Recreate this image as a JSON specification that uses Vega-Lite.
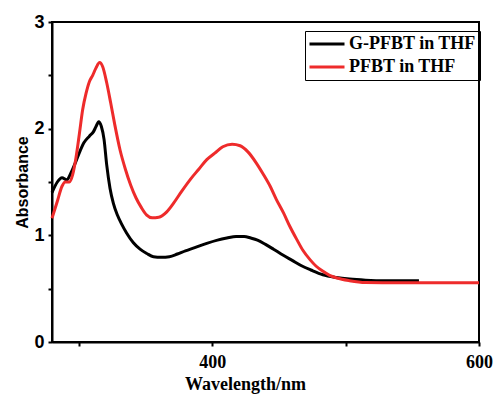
{
  "$schema": "https://vega.github.io/schema/vega-lite/v6.json",
  "width": 427,
  "height": 320,
  "autosize": {"type": "none"},
  "padding": {"left": 52, "top": 22, "right": 16, "bottom": 53},
  "background": "white",
  "datasets": {
    "black": [
      {"nm": 280, "A": 1.40}, {"nm": 284, "A": 1.50}, {"nm": 287.5, "A": 1.54}, {"nm": 291, "A": 1.52},
      {"nm": 294, "A": 1.58}, {"nm": 297.5, "A": 1.68}, {"nm": 301, "A": 1.79}, {"nm": 304, "A": 1.87},
      {"nm": 308, "A": 1.93}, {"nm": 311, "A": 1.97}, {"nm": 313, "A": 2.02}, {"nm": 315, "A": 2.065},
      {"nm": 317, "A": 2.02}, {"nm": 319, "A": 1.90}, {"nm": 321, "A": 1.66}, {"nm": 323.5, "A": 1.44},
      {"nm": 326, "A": 1.30}, {"nm": 329, "A": 1.19}, {"nm": 332, "A": 1.11}, {"nm": 336, "A": 1.02},
      {"nm": 341, "A": 0.93}, {"nm": 346, "A": 0.87}, {"nm": 351, "A": 0.83}, {"nm": 356, "A": 0.80},
      {"nm": 362, "A": 0.795}, {"nm": 368, "A": 0.80}, {"nm": 374, "A": 0.825}, {"nm": 380, "A": 0.855},
      {"nm": 387, "A": 0.885}, {"nm": 396, "A": 0.925}, {"nm": 404, "A": 0.955}, {"nm": 411, "A": 0.975},
      {"nm": 418, "A": 0.99}, {"nm": 424, "A": 0.99}, {"nm": 429, "A": 0.975}, {"nm": 434, "A": 0.955},
      {"nm": 440, "A": 0.915}, {"nm": 446, "A": 0.87}, {"nm": 453, "A": 0.815}, {"nm": 460, "A": 0.765},
      {"nm": 467, "A": 0.715}, {"nm": 474, "A": 0.675}, {"nm": 483, "A": 0.63}, {"nm": 493, "A": 0.605},
      {"nm": 503, "A": 0.59}, {"nm": 515, "A": 0.58}, {"nm": 530, "A": 0.575}, {"nm": 555, "A": 0.575}
    ],
    "red": [
      {"nm": 280, "A": 1.16}, {"nm": 284, "A": 1.32}, {"nm": 287.5, "A": 1.46}, {"nm": 290, "A": 1.50},
      {"nm": 293, "A": 1.50}, {"nm": 295.5, "A": 1.57}, {"nm": 298, "A": 1.73}, {"nm": 300.5, "A": 1.95},
      {"nm": 303, "A": 2.18}, {"nm": 305.5, "A": 2.33}, {"nm": 308, "A": 2.44}, {"nm": 310.5, "A": 2.50},
      {"nm": 313, "A": 2.57}, {"nm": 315.7, "A": 2.62}, {"nm": 318, "A": 2.58}, {"nm": 321, "A": 2.43},
      {"nm": 324, "A": 2.24}, {"nm": 327, "A": 2.04}, {"nm": 331, "A": 1.80}, {"nm": 335, "A": 1.62},
      {"nm": 339, "A": 1.47}, {"nm": 343, "A": 1.35}, {"nm": 347, "A": 1.26}, {"nm": 351, "A": 1.19},
      {"nm": 355, "A": 1.165}, {"nm": 360, "A": 1.17}, {"nm": 366, "A": 1.22}, {"nm": 371, "A": 1.30},
      {"nm": 377, "A": 1.41}, {"nm": 384, "A": 1.53}, {"nm": 390, "A": 1.62}, {"nm": 396, "A": 1.71},
      {"nm": 402, "A": 1.77}, {"nm": 408, "A": 1.83}, {"nm": 415, "A": 1.855}, {"nm": 421, "A": 1.84},
      {"nm": 427, "A": 1.78}, {"nm": 433, "A": 1.68}, {"nm": 438, "A": 1.58}, {"nm": 443.5, "A": 1.46},
      {"nm": 448, "A": 1.34}, {"nm": 453.5, "A": 1.21}, {"nm": 458, "A": 1.09}, {"nm": 463.5, "A": 0.96},
      {"nm": 468, "A": 0.86}, {"nm": 473.5, "A": 0.77}, {"nm": 478, "A": 0.71}, {"nm": 483.4, "A": 0.66},
      {"nm": 488, "A": 0.625}, {"nm": 493.5, "A": 0.60}, {"nm": 503, "A": 0.575}, {"nm": 515, "A": 0.558},
      {"nm": 540, "A": 0.555}, {"nm": 570, "A": 0.555}, {"nm": 600, "A": 0.555}
    ]
  },
  "layer": [
    {
      "data": {"name": "black"},
      "transform": [{"calculate": "'G-PFBT in THF'", "as": "series"}],
      "mark": {"type": "line", "strokeWidth": 3, "interpolate": "monotone"},
      "encoding": {
        "x": {"field": "nm", "type": "quantitative"},
        "y": {"field": "A", "type": "quantitative"},
        "color": {"field": "series", "type": "nominal"}
      }
    },
    {
      "data": {"name": "red"},
      "transform": [{"calculate": "'PFBT in THF'", "as": "series"}],
      "mark": {"type": "line", "strokeWidth": 3, "interpolate": "monotone"},
      "encoding": {
        "x": {"field": "nm", "type": "quantitative"},
        "y": {"field": "A", "type": "quantitative"},
        "color": {"field": "series", "type": "nominal"}
      }
    }
  ],
  "encoding": {
    "x": {
      "field": "nm", "type": "quantitative",
      "scale": {"domain": [280, 600], "nice": false, "zero": false},
      "axis": {
        "title": "Wavelength/nm",
        "values": [300, 400, 500, 600],
        "labelExpr": "datum.value % 200 === 0 ? format(datum.value, 'd') : ''",
        "labelFlush": false,
        "labelOverlap": false,
        "tickSize": 4,
        "labelPadding": 7,
        "labelFont": "Liberation Serif", "labelFontSize": 18, "labelFontWeight": "bold",
        "titleFont": "Liberation Serif", "titleFontSize": 18, "titleFontWeight": "bold",
        "titleX": 193,
        "titleY": 47,
        "titleAlign": "center",
        "titleBaseline": "alphabetic"
      }
    },
    "y": {
      "field": "A", "type": "quantitative",
      "scale": {"domain": [0, 3], "nice": false},
      "axis": {
        "title": "Absorbance",
        "values": [0, 0.5, 1, 1.5, 2, 2.5, 3],
        "labelExpr": "datum.value % 1 === 0 ? format(datum.value, 'd') : ''",
        "labelFlush": false,
        "labelOverlap": false,
        "tickSize": 4,
        "labelPadding": 4,
        "labelFont": "Liberation Sans", "labelFontSize": 18, "labelFontWeight": "bold",
        "titleFont": "Liberation Sans", "titleFontSize": 16, "titleFontWeight": "bold",
        "titlePadding": 3
      }
    },
    "color": {
      "field": "series", "type": "nominal",
      "scale": {"domain": ["G-PFBT in THF", "PFBT in THF"], "range": ["#000000", "#ee2b2b"]},
      "legend": {
        "title": null,
        "orient": "none",
        "legendX": 253,
        "legendY": 9,
        "symbolType": "stroke",
        "symbolSize": 1225,
        "symbolStrokeWidth": 3,
        "clipHeight": 20,
        "labelFont": "Liberation Serif", "labelFontSize": 18, "labelFontWeight": "bold",
        "labelColor": "black",
        "labelOffset": 3,
        "rowPadding": 3,
        "padding": 3,
        "strokeColor": "black"
      }
    }
  },
  "config": {
    "view": {"stroke": "black", "strokeWidth": 2},
    "axis": {"grid": false, "domainColor": "black", "domainWidth": 2, "tickColor": "black", "tickWidth": 2, "labelColor": "black", "titleColor": "black"}
  }
}
